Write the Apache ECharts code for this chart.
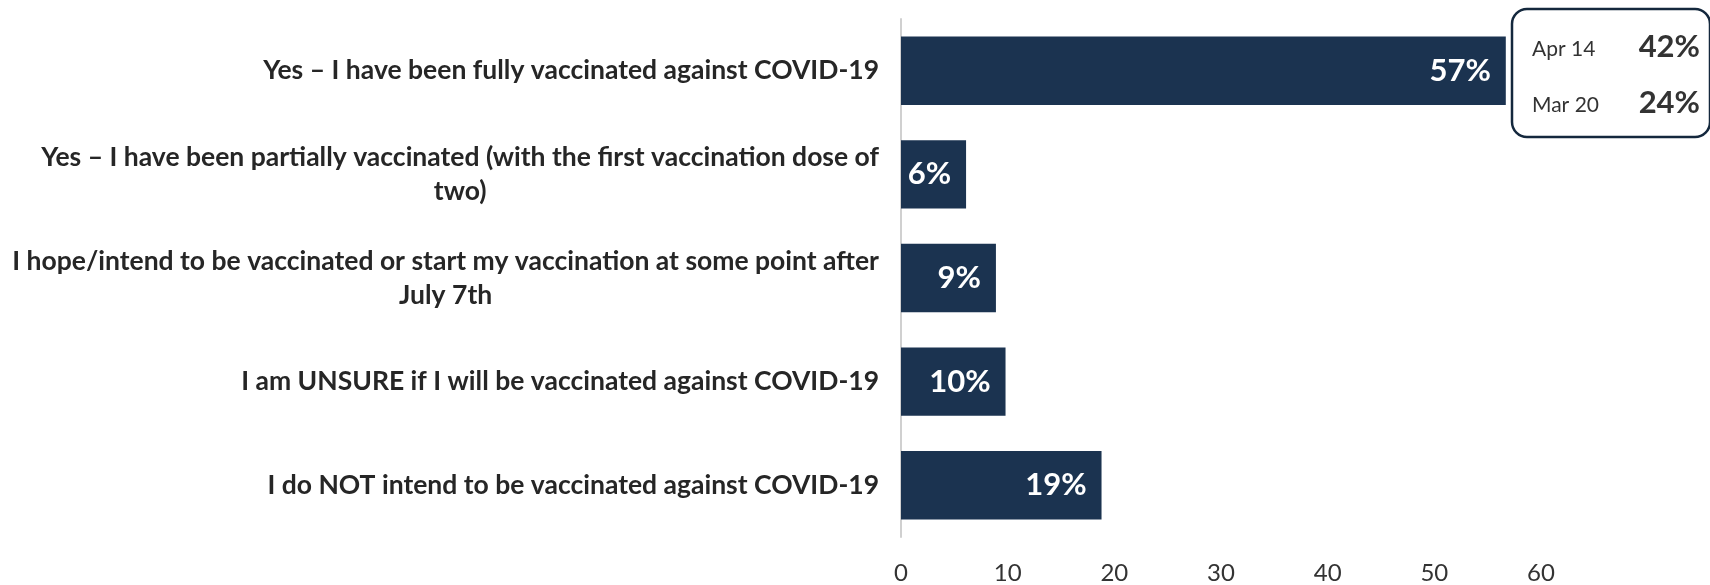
<!DOCTYPE html>
<html>
<head>
<meta charset="utf-8">
<script src="https://cdn.jsdelivr.net/npm/echarts@6/dist/echarts.min.js"></script>
<style>
  html, body { margin: 0; padding: 0; background: #fff; }
  #main { width: 1710px; height: 585px; }
</style>
</head>
<body>
<div id="main"></div>
<script>
// survey answers, top to bottom
const categories = [
  'Yes – I have been fully vaccinated against COVID-19',
  'Yes – I have been partially vaccinated (with the first vaccination dose of\ntwo)',
  'I hope/intend to be vaccinated or start my vaccination at some point after\nJuly 7th',
  'I am UNSURE if I will be vaccinated against COVID-19',
  'I do NOT intend to be vaccinated against COVID-19'
];
const shares = [56.7, 6.1, 8.9, 9.8, 18.8];
const shareLabels = ['57%', '6%', '9%', '10%', '19%'];
const xTicks = [0, 10, 20, 30, 40, 50, 60];

// earlier waves shown in the box
const pastWaves = ['Apr 14', 'Mar 20'];
const pastShares = ['42%', '24%'];

const navy = '#1b3350';
const font = 'Lato, "Open Sans", sans-serif';

let chart = echarts.init(document.getElementById('main'));

let boxItems = [{
  type: 'rect',
  shape: {x: 1512, y: 9, width: 198, height: 128, r: 15},
  style: {fill: '#fff', stroke: '#14283d', lineWidth: 2.5}
}];
for (let i = 0; i < pastWaves.length; i++) {
  boxItems.push({
    type: 'text', x: 1532, y: 49 + i * 56,
    style: {text: pastWaves[i], font: '400 21px ' + font, fill: '#333', textVerticalAlign: 'middle'}
  });
  boxItems.push({
    type: 'text', x: 1700, y: 47 + i * 56,
    style: {text: pastShares[i], font: '700 31px ' + font, fill: '#333', textAlign: 'right', textVerticalAlign: 'middle'}
  });
}

let option = {
  animation: false,
  textStyle: {fontFamily: font},
  grid: {left: 901, right: 169, top: 19, bottom: 47},
  xAxis: {
    type: 'value',
    min: 0,
    max: 60,
    interval: 10,
    axisLine: {show: false},
    axisTick: {show: false},
    splitLine: {show: false},
    axisLabel: {
      color: '#333',
      fontSize: 24,
      fontFamily: font,
      margin: 24,
      formatter: v => xTicks.includes(v) ? String(v) : ''
    }
  },
  yAxis: {
    type: 'category',
    inverse: true,
    data: categories,
    axisLine: {show: true, lineStyle: {color: '#d0d0d0', width: 2}},
    axisTick: {show: false},
    axisLabel: {
      margin: 22,
      formatter: v => v.split('\n').map(s => '{c|' + s + '}').join('\n'),
      rich: {
        c: {
          align: 'center',
          fontSize: 26.5,
          fontWeight: 700,
          fontFamily: font,
          color: '#262626',
          lineHeight: 34
        }
      }
    }
  },
  series: [{
    type: 'bar',
    data: shares,
    barWidth: '66%',
    itemStyle: {color: navy},
    label: {
      show: true,
      position: 'insideRight',
      distance: 15,
      color: '#fff',
      fontSize: 31,
      fontWeight: 700,
      fontFamily: font,
      formatter: p => shareLabels[p.dataIndex]
    }
  }],
  graphic: boxItems
};

option && chart.setOption(option);
</script>
</body>
</html>
